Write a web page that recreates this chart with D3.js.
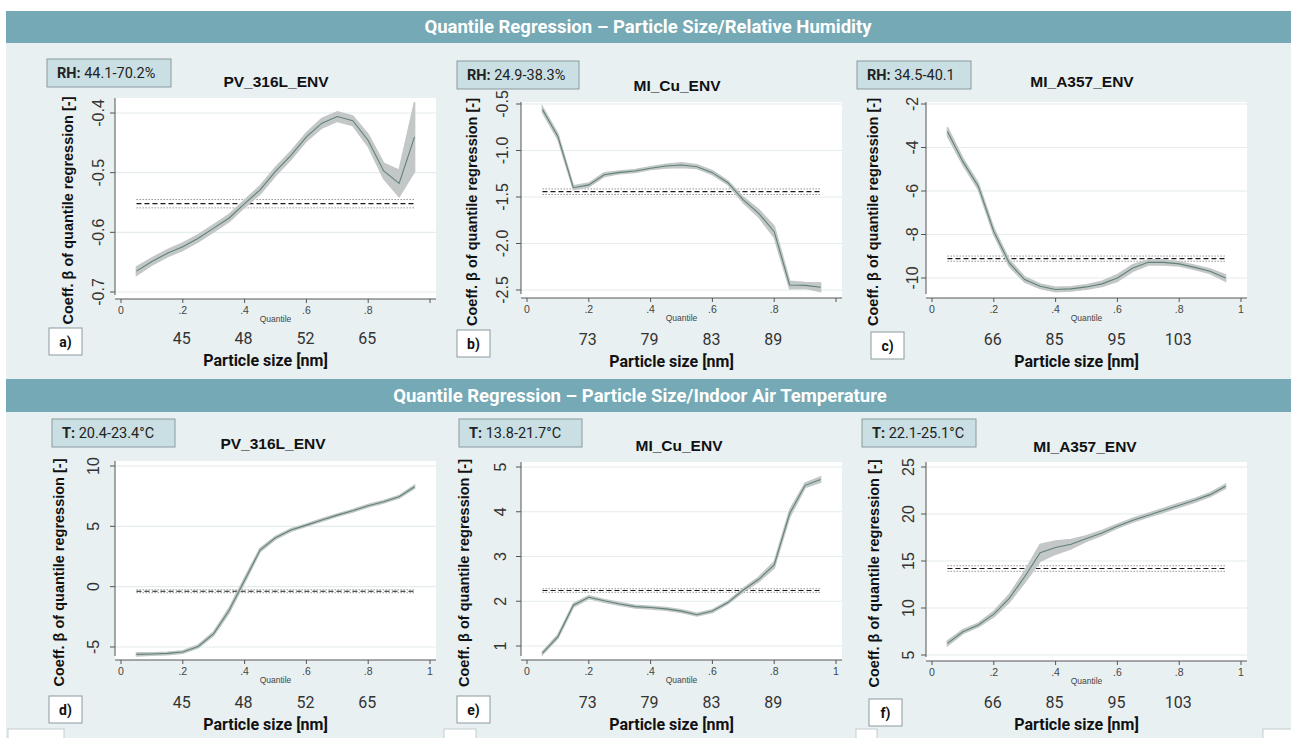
<!DOCTYPE html>
<html>
<head>
<meta charset="utf-8">
<script src="https://cdn.jsdelivr.net/npm/d3@7"></script>
<style>
  html, body { margin: 0; padding: 0; background: #ffffff; }
  svg { display: block; }
</style>
</head>
<body>
<svg id="chart" width="1291" height="738"></svg>
<script>
// quantiles estimated (x axis of every panel)
var quantiles = [0.05, 0.10, 0.15, 0.20, 0.25, 0.30, 0.35, 0.40, 0.45, 0.50,
                 0.55, 0.60, 0.65, 0.70, 0.75, 0.80, 0.85, 0.90, 0.95];
var xTicks = [0, 0.2, 0.4, 0.6, 0.8, 1];

var headerTitles = ['Quantile Regression \u2013 Particle Size/Relative Humidity',
                    'Quantile Regression \u2013 Particle Size/Indoor Air Temperature'];

var panelIds = ['a', 'b', 'c', 'd', 'e', 'f'];
var panelNames = ['PV_316L_ENV', 'MI_Cu_ENV', 'MI_A357_ENV', 'PV_316L_ENV', 'MI_Cu_ENV', 'MI_A357_ENV'];
var rangeKeys = ['RH:', 'RH:', 'RH:', 'T:', 'T:', 'T:'];
var rangeValues = [' 44.1-70.2%', ' 24.9-38.3%', ' 34.5-40.1', ' 20.4-23.4\u00b0C', ' 13.8-21.7\u00b0C', ' 22.1-25.1\u00b0C'];

// particle size labels under the quantile axis
var sizeLabelsPV = ['45', '48', '52', '65'];
var sizeLabelsCu = ['73', '79', '83', '89'];
var sizeLabelsA357 = ['66', '85', '95', '103'];
var sizeAt = [0.2, 0.4, 0.6, 0.8];

// coefficient per quantile + half width of the confidence band
var rhPV = [-0.665, -0.649, -0.635, -0.624, -0.610, -0.593, -0.576, -0.552, -0.529, -0.498,
            -0.471, -0.440, -0.417, -0.406, -0.413, -0.446, -0.497, -0.518, -0.440];
var rhPVci = [0.007, 0.006, 0.006, 0.006, 0.006, 0.006, 0.006, 0.006, 0.007, 0.007,
              0.007, 0.007, 0.008, 0.008, 0.008, 0.010, 0.013, 0.022, 0.058];
var rhCu = [-0.56, -0.85, -1.40, -1.37, -1.26, -1.235, -1.22, -1.19, -1.167, -1.156,
            -1.174, -1.238, -1.346, -1.532, -1.676, -1.873, -2.446, -2.45, -2.47];
var rhCuCi = [0.03, 0.03, 0.02, 0.02, 0.02, 0.015, 0.015, 0.015, 0.02, 0.025,
              0.02, 0.02, 0.02, 0.03, 0.04, 0.06, 0.04, 0.03, 0.045];
var rhA357 = [-3.27, -4.65, -5.79, -7.86, -9.31, -10.07, -10.38, -10.53, -10.50, -10.41,
              -10.27, -10.00, -9.54, -9.28, -9.28, -9.35, -9.51, -9.69, -10.00];
var rhA357ci = [0.2, 0.15, 0.15, 0.15, 0.15, 0.12, 0.1, 0.1, 0.1, 0.1,
                0.12, 0.15, 0.15, 0.12, 0.12, 0.1, 0.1, 0.1, 0.15];
var tPV = [-5.61, -5.58, -5.53, -5.42, -4.95, -3.89, -1.96, 0.53, 3.03, 4.05,
           4.69, 5.10, 5.52, 5.93, 6.29, 6.71, 7.04, 7.45, 8.28];
var tPVci = [0.12, 0.1, 0.1, 0.1, 0.12, 0.15, 0.2, 0.2, 0.15, 0.12,
             0.1, 0.1, 0.1, 0.1, 0.1, 0.1, 0.1, 0.1, 0.12];
var tCu = [0.84, 1.21, 1.91, 2.09, 2.01, 1.94, 1.88, 1.86, 1.83, 1.78,
           1.70, 1.78, 1.97, 2.25, 2.49, 2.81, 3.96, 4.59, 4.72];
var tCuCi = [0.03, 0.04, 0.04, 0.03, 0.03, 0.03, 0.03, 0.03, 0.03, 0.03,
             0.03, 0.03, 0.03, 0.04, 0.05, 0.07, 0.08, 0.05, 0.06];
var tA357 = [6.24, 7.48, 8.19, 9.35, 11.02, 13.32, 15.87, 16.43, 16.79, 17.39,
             17.99, 18.70, 19.34, 19.87, 20.40, 20.93, 21.46, 22.06, 22.95];
var tA357ci = [0.25, 0.2, 0.2, 0.3, 0.4, 0.6, 0.9, 0.7, 0.5, 0.3,
               0.25, 0.2, 0.2, 0.2, 0.2, 0.2, 0.2, 0.2, 0.2];

// OLS estimate and its confidence half width
var olsCoef = [-0.552, -1.443, -9.11, -0.38, 2.24, 14.2];
var olsCi = [0.007, 0.03, 0.12, 0.12, 0.04, 0.3];

var yTicksA = [-0.7, -0.6, -0.5, -0.4];
var yTicksB = [-2.5, -2.0, -1.5, -1.0, -0.5];
var yTicksC = [-10, -8, -6, -4, -2];
var yTicksD = [-5, 0, 5, 10];
var yTicksE = [1, 2, 3, 4, 5];
var yTicksF = [5, 10, 15, 20, 25];

var series = [rhPV, rhCu, rhA357, tPV, tCu, tA357];
var bands = [rhPVci, rhCuCi, rhA357ci, tPVci, tCuCi, tA357ci];
var yTicks = [yTicksA, yTicksB, yTicksC, yTicksD, yTicksE, yTicksF];
var sizeLabels = [sizeLabelsPV, sizeLabelsCu, sizeLabelsA357, sizeLabelsPV, sizeLabelsCu, sizeLabelsA357];

// pixel layout of each panel (axis position, plot top, y pixel of first/last tick)
var layout = [
  {ax: 115, top: 98,  axY: 299, yr: [292, 113], fmt: '.1f', one: false, box: [47, 59, 124], lab: 68,  tl: 98,  title: [276, 87],  letter: [49, 328],  ps: 366},
  {ax: 521, top: 102, axY: 298, yr: [290, 104], fmt: '.1f', one: false, box: [457, 61, 122], lab: 472, tl: 502, title: [677, 91],  letter: [457, 330], ps: 367},
  {ax: 926, top: 102, axY: 298, yr: [278, 104], fmt: 'd',   one: true,  box: [857, 61, 114], lab: 873, tl: 912, title: [1082, 87], letter: [871, 332], ps: 367},
  {ax: 115, top: 461, axY: 660, yr: [647, 466], fmt: 'd',   one: true,  box: [52, 419, 123], lab: 59,  tl: 93,  title: [273, 449], letter: [49, 696],  ps: 730},
  {ax: 521, top: 462, axY: 660, yr: [646, 467], fmt: 'd',   one: true,  box: [459, 419, 123], lab: 464, tl: 500, title: [679, 451], letter: [457, 696], ps: 730},
  {ax: 926, top: 462, axY: 661, yr: [655, 467], fmt: 'd',   one: true,  box: [862, 419, 114], lab: 874, tl: 908, title: [1085, 452], letter: [869, 699], ps: 730}
];

var svg = d3.select('#chart');
var sans = 'Roboto, "Liberation Sans", Arial, sans-serif';
var stata = '"Liberation Sans", Arial, sans-serif';

// background
svg.append('rect').attr('x', 6).attr('y', 43).attr('width', 1285).attr('height', 695).attr('fill', '#e8f0f2');

// section headers
[[11, 43], [379, 412]].forEach(function(b, i) {
  svg.append('rect').attr('x', 6).attr('y', b[0]).attr('width', 1285).attr('height', b[1] - b[0])
    .attr('fill', '#74a9b5');
  svg.append('text').attr('x', i === 0 ? 648 : 640).attr('y', b[1] - 10)
    .attr('text-anchor', 'middle').attr('fill', '#ffffff')
    .style('font-family', sans).style('font-weight', 700).style('font-size', '18.5px')
    .text(headerTitles[i]);
});

// tops of the cut-off boxes at the bottom edge
[[8, 56], [444, 32], [856, 21], [1263, 30]].forEach(function(r) {
  svg.append('rect').attr('x', r[0]).attr('y', 729).attr('width', r[1]).attr('height', 12)
    .attr('fill', '#ffffff').attr('stroke', '#b8c2c4').attr('stroke-width', 0.8);
});

layout.forEach(function(L, i) {
  var g = svg.append('g');
  var x = d3.scaleLinear().domain([0, 1]).range([L.ax + 6, L.ax + 315]);
  var ticks = yTicks[i];
  var y = d3.scaleLinear().domain([ticks[0], ticks[ticks.length - 1]]).range(L.yr);
  var right = L.ax + 321;

  // plot region
  g.append('rect').attr('x', L.ax).attr('y', L.top).attr('width', right - L.ax).attr('height', L.axY - L.top)
    .attr('fill', '#ffffff');

  // grid
  g.selectAll('.grid').data(ticks).enter().append('line')
    .attr('x1', L.ax).attr('x2', right)
    .attr('y1', function(d) { return y(d); }).attr('y2', function(d) { return y(d); })
    .attr('stroke', '#e4ecee').attr('stroke-width', 1.2);

  // y axis
  g.append('line').attr('x1', L.ax).attr('x2', L.ax).attr('y1', L.top).attr('y2', L.axY - 4)
    .attr('stroke', '#555').attr('stroke-width', 1);
  g.selectAll('.ytick').data(ticks).enter().append('line')
    .attr('x1', L.ax - 5).attr('x2', L.ax)
    .attr('y1', function(d) { return y(d); }).attr('y2', function(d) { return y(d); })
    .attr('stroke', '#555');
  var f = d3.format(L.fmt);
  g.selectAll('.ylab').data(ticks).enter().append('text')
    .attr('transform', function(d) { return 'translate(' + L.tl + ',' + y(d) + ') rotate(-90)'; })
    .attr('dy', '0.35em').attr('text-anchor', 'middle')
    .attr('fill', '#333').style('font-family', stata).style('font-size', '16px')
    .text(function(d) { return f(d).replace('\u2212', '-'); });

  // x axis
  g.append('line').attr('x1', L.ax).attr('x2', right).attr('y1', L.axY).attr('y2', L.axY)
    .attr('stroke', '#555').attr('stroke-width', 1);
  g.selectAll('.xtick').data(xTicks).enter().append('line')
    .attr('x1', function(d) { return x(d); }).attr('x2', function(d) { return x(d); })
    .attr('y1', L.axY).attr('y2', L.axY + 4).attr('stroke', '#555');
  g.selectAll('.xlab').data(L.one ? xTicks : xTicks.slice(0, 5)).enter().append('text')
    .attr('x', function(d) { return x(d); }).attr('y', L.axY + 15)
    .attr('text-anchor', 'middle').attr('fill', '#444')
    .style('font-family', stata).style('font-size', '10.5px')
    .text(function(d) { return d === 0 ? '0' : d === 1 ? '1' : String(d).replace('0.', '.'); });
  g.append('text').attr('x', x(0.5)).attr('y', L.axY + 23).attr('text-anchor', 'middle')
    .attr('fill', '#444').style('font-family', stata).style('font-size', '8.5px').text('Quantile');

  // OLS estimate with CI
  [-1, 1].forEach(function(s) {
    g.append('line').attr('x1', x(quantiles[0])).attr('x2', x(quantiles[18]))
      .attr('y1', y(olsCoef[i] + s * olsCi[i])).attr('y2', y(olsCoef[i] + s * olsCi[i]))
      .attr('stroke', '#8a8a8a').attr('stroke-width', 0.9).attr('stroke-dasharray', '1.5,1.5');
  });
  g.append('line').attr('x1', x(quantiles[0])).attr('x2', x(quantiles[18]))
    .attr('y1', y(olsCoef[i])).attr('y2', y(olsCoef[i]))
    .attr('stroke', '#1a1a1a').attr('stroke-width', 1.2).attr('stroke-dasharray', '5,3');

  // quantile estimates with CI band
  var pts = quantiles.map(function(q, k) { return {q: q, v: series[i][k], c: bands[i][k]}; });
  g.append('path').datum(pts)
    .attr('d', d3.area().x(function(d) { return x(d.q); })
      .y0(function(d) { return y(d.v - d.c); }).y1(function(d) { return y(d.v + d.c); }))
    .attr('fill', '#c3c7c7').attr('stroke', '#c3c7c7').attr('stroke-width', 1.6);
  g.append('path').datum(pts)
    .attr('d', d3.line().x(function(d) { return x(d.q); }).y(function(d) { return y(d.v); }))
    .attr('fill', 'none').attr('stroke', '#5f8279').attr('stroke-width', 1.1);

  // title
  g.append('text').attr('x', L.title[0]).attr('y', L.title[1]).attr('text-anchor', 'middle')
    .attr('fill', '#111').style('font-family', stata).style('font-weight', 700).style('font-size', '15.5px')
    .text(panelNames[i]);

  // y axis title
  g.append('text')
    .attr('transform', 'translate(' + L.lab + ',' + ((L.top + L.axY) / 2 + 12) + ') rotate(-90)')
    .attr('dy', '0.35em').attr('text-anchor', 'middle').attr('fill', '#111')
    .style('font-family', stata).style('font-weight', 700).style('font-size', '14.5px')
    .text('Coeff. \u03b2 of quantile regression [-]');

  // condition range box
  g.append('rect').attr('x', L.box[0]).attr('y', L.box[1]).attr('width', L.box[2]).attr('height', 28)
    .attr('fill', '#c9dfe3').attr('stroke', '#8a9a9d').attr('stroke-width', 1);
  var t = g.append('text').attr('x', L.box[0] + 10).attr('y', L.box[1] + 19)
    .attr('fill', '#222').style('font-family', sans).style('font-size', '14.5px');
  t.append('tspan').style('font-weight', 700).text(rangeKeys[i]);
  t.append('tspan').text(rangeValues[i]);

  // particle sizes
  g.selectAll('.ps').data(sizeLabels[i]).enter().append('text')
    .attr('x', function(d, k) { return x(sizeAt[k]) - 1; }).attr('y', L.ps - 22)
    .attr('text-anchor', 'middle').attr('fill', '#333')
    .style('font-family', sans).style('font-size', '16px')
    .text(function(d) { return d; });
  g.append('text').attr('x', x(0.5) - 10).attr('y', L.ps).attr('text-anchor', 'middle')
    .attr('fill', '#111').style('font-family', sans).style('font-weight', 700).style('font-size', '16px')
    .text('Particle size [nm]');

  // panel letter
  g.append('rect').attr('x', L.letter[0]).attr('y', L.letter[1]).attr('width', 33).attr('height', 27)
    .attr('fill', '#ffffff').attr('stroke', '#8a9a9d').attr('stroke-width', 1);
  g.append('text').attr('x', L.letter[0] + 16.5).attr('y', L.letter[1] + 19).attr('text-anchor', 'middle')
    .attr('fill', '#111').style('font-family', sans).style('font-weight', 700).style('font-size', '14px')
    .text(panelIds[i] + ')');
});
</script>
</body>
</html>
